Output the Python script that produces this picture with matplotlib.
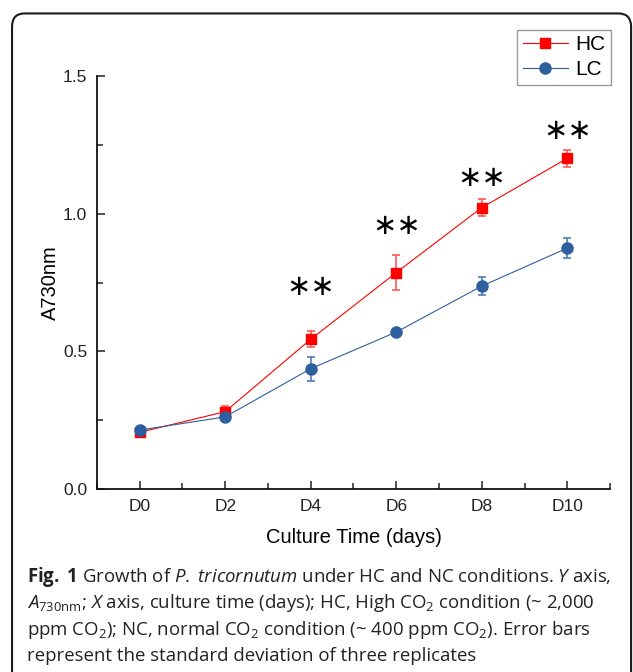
import matplotlib
matplotlib.use("Agg")
import matplotlib.pyplot as plt
from matplotlib.lines import Line2D
from matplotlib.patches import FancyBboxPatch
from matplotlib.ticker import MultipleLocator, FormatStrFormatter

# data
days = [0, 2, 4, 6, 8, 10]
day_labels = ["D0", "D2", "D4", "D6", "D8", "D10"]
hc_mean = [0.206, 0.281, 0.544, 0.786, 1.022, 1.201]
hc_sd = [0.01, 0.02, 0.03, 0.065, 0.031, 0.03]
lc_mean = [0.214, 0.262, 0.437, 0.570, 0.737, 0.875]
lc_sd = [0.01, 0.01, 0.044, 0.01, 0.033, 0.036]
star_days = [4, 6, 8, 10]
star_y = [0.735, 0.955, 1.13, 1.30]

caption = [
    r"$\mathbf{Fig.}$ $\mathbf{1}$ Growth of $\mathit{P.}$ $\mathit{tricornutum}$ under HC and NC conditions. $\mathit{Y}$ axis,",
    r"$\mathit{A}_{\mathrm{730nm}}$; $\mathit{X}$ axis, culture time (days); HC, High CO$_2$ condition (~ 2,000",
    r"ppm CO$_2$); NC, normal CO$_2$ condition (~ 400 ppm CO$_2$). Error bars",
    "represent the standard deviation of three replicates",
]

plt.rcParams["font.family"] = ["Liberation Sans", "DejaVu Sans"]
plt.rcParams["mathtext.fontset"] = "custom"
plt.rcParams["mathtext.rm"] = "Open Sans"
plt.rcParams["mathtext.it"] = "Open Sans:italic"
plt.rcParams["mathtext.bf"] = "Open Sans:bold"

fig = plt.figure(figsize=(6.33, 6.72), dpi=100)
ax = fig.add_axes([0.1532, 0.2723, 0.8105, 0.6146])

hc_color = "#ff0000"
lc_color = "#2e5f9e"

ax.errorbar(days, hc_mean, yerr=hc_sd, color=hc_color, ecolor="#ff5a5a",
            marker="s", markersize=7, linewidth=0.8, elinewidth=1.2,
            capsize=3, capthick=1.2, zorder=3)
ax.errorbar(days, lc_mean, yerr=lc_sd, color=lc_color, ecolor="#4f7ab5",
            marker="o", markersize=8, linewidth=0.8, elinewidth=1.2,
            capsize=3, capthick=1.2, zorder=3)

for d, y in zip(star_days, star_y):
    ax.text(d, y, "\u2217\u2217", ha="center", va="center", fontsize=21,
            family="DejaVu Sans")

ax.set_xlim(-1, 11)
ax.set_ylim(0, 1.5)
ax.set_xticks(days)
ax.set_xticklabels(day_labels)
ax.xaxis.set_minor_locator(MultipleLocator(1))
ax.yaxis.set_major_locator(MultipleLocator(0.5))
ax.yaxis.set_minor_locator(MultipleLocator(0.25))
ax.yaxis.set_major_formatter(FormatStrFormatter("%.1f"))
ax.tick_params(which="both", direction="in", width=1.1, labelsize=12.5,
               colors="#222222")
ax.tick_params(which="major", length=6, pad=7)
ax.tick_params(which="minor", length=4)
for s in ["top", "right"]:
    ax.spines[s].set_visible(False)
for s in ["left", "bottom"]:
    ax.spines[s].set_linewidth(1.3)
    ax.spines[s].set_color("#111111")
ax.set_xlabel("Culture Time (days)", fontsize=14.5, labelpad=10)
ax.set_ylabel("A730nm", fontsize=14.5, labelpad=2)

handles = [
    Line2D([], [], color=hc_color, lw=0.8, marker="s", markersize=7),
    Line2D([], [], color=lc_color, lw=0.8, marker="o", markersize=8),
]
leg = fig.legend(handles, ["HC", "LC"], loc="upper right",
                 bbox_to_anchor=(611 / 633, 1 - 30 / 672),
                 bbox_transform=fig.transFigure,
                 fontsize=15, fancybox=False, edgecolor="#808080",
                 handlelength=2.2, borderpad=0.25, labelspacing=0.3,
                 handletextpad=0.35, borderaxespad=0)
leg.get_frame().set_linewidth(1.0)

# rounded figure frame
frame = FancyBboxPatch((0.019, -0.2), 0.978, 1.18,
                       boxstyle="round,pad=0,rounding_size=0.02",
                       transform=fig.transFigure, fill=False,
                       edgecolor="#1a1a1a", linewidth=1.5, clip_on=False)
fig.patches.append(frame)

line_y = [577, 603, 630, 656]
for text, yp in zip(caption, line_y):
    fig.text(27 / 633, 1 - yp / 672, text, ha="left", va="center",
             fontsize=13.4, family="Open Sans", color="#222222")

fig.savefig("out.png", dpi=100)
